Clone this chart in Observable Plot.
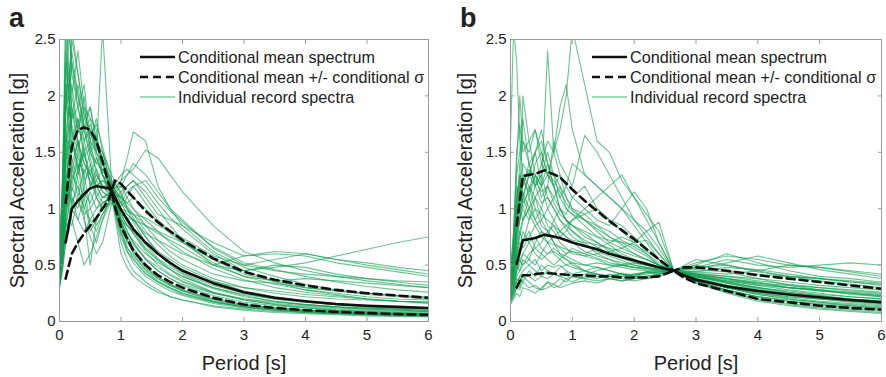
<!DOCTYPE html>
<html>
<head>
<meta charset="utf-8">
<script src="https://cdn.jsdelivr.net/npm/d3@7"></script>
<script src="https://cdn.jsdelivr.net/npm/@observablehq/plot@0.6"></script>
<style>
  html, body { margin: 0; padding: 0; background: #fff; }
  #wrap { position: relative; width: 886px; height: 377px; font-family: "Liberation Sans", Arial, sans-serif; color: #222; }
  .panel { position: absolute; top: 0; }
  .letter { position: absolute; font-weight: bold; font-size: 27px; line-height: 1; }
  .legend { position: absolute; font-size: 16.2px; color: #222; }
  .legend .row { display: flex; align-items: center; height: 20px; white-space: nowrap; }
  .legend svg { margin-right: 3px; }
</style>
</head>
<body>
<div id="wrap"></div>
<script>
// ---------------- Data ----------------
const xTicks = [0, 1, 2, 3, 4, 5, 6];
const yTicks = [0, 0.5, 1, 1.5, 2, 2.5];
const legendLabels = ["Conditional mean spectrum", "Conditional mean +/- conditional \u03c3", "Individual record spectra"];
const panelLetters = ["a", "b"];

// Panel a: conditional mean spectrum and +/- sigma
const cmsPeriodsA = [0.1, 0.2, 0.3, 0.4, 0.5, 0.6, 0.7, 0.8, 0.85, 0.9, 1.0, 1.2, 1.4, 1.6, 1.8, 2.0, 2.5, 3.0, 3.5, 4.0, 4.5, 5.0, 5.5, 6.0];
const cmsMeanA  = [0.70, 1.00, 1.07, 1.13, 1.18, 1.20, 1.19, 1.18, 1.16, 1.10, 0.99, 0.82, 0.70, 0.60, 0.52, 0.45, 0.34, 0.26, 0.21, 0.18, 0.155, 0.14, 0.13, 0.12];
const cmsUpperA = [1.05, 1.55, 1.70, 1.72, 1.70, 1.60, 1.42, 1.22, 1.16, 1.25, 1.22, 1.10, 0.98, 0.88, 0.80, 0.72, 0.56, 0.44, 0.37, 0.32, 0.28, 0.25, 0.23, 0.21];
const cmsLowerA = [0.38, 0.60, 0.70, 0.78, 0.85, 0.92, 1.00, 1.08, 1.16, 1.02, 0.84, 0.63, 0.50, 0.41, 0.35, 0.30, 0.21, 0.15, 0.12, 0.10, 0.085, 0.075, 0.065, 0.06];

// Panel a: individual record spectra
const recPeriodsA = [0, 0.05, 0.1, 0.15, 0.2, 0.3, 0.4, 0.5, 0.6, 0.7, 0.85, 1.0, 1.1, 1.2, 1.4, 1.6, 1.8, 2.0, 2.5, 3.0, 3.5, 4.0, 4.5, 5.0, 5.5, 6.0];
const recordsA = [
  [0.35,0.6,1.1,1.5,1.3,1.6,1.2,1.4,1.1,1.0,1.15,0.85,0.7,0.62,0.48,0.38,0.32,0.27,0.18,0.13,0.10,0.08,0.07,0.06,0.05,0.045],
  [0.45,0.9,1.8,2.6,2.2,1.9,2.1,1.6,1.5,1.3,1.2,1.05,0.95,0.9,0.75,0.62,0.55,0.48,0.36,0.27,0.22,0.18,0.15,0.13,0.12,0.11],
  [0.38,0.7,1.3,1.1,1.6,1.4,1.0,0.9,0.8,0.95,1.1,1.25,1.45,1.68,1.6,1.2,1.0,0.85,0.62,0.48,0.4,0.33,0.28,0.25,0.23,0.21],
  [0.5,1.0,2.0,1.7,2.5,2.2,1.8,1.9,1.6,1.4,1.15,0.9,0.75,0.65,0.5,0.4,0.33,0.28,0.2,0.15,0.12,0.1,0.09,0.08,0.07,0.065],
  [0.32,0.5,0.9,1.2,1.0,1.3,1.5,1.2,1.3,1.2,1.18,1.2,1.3,1.35,1.52,1.45,1.3,1.15,0.85,0.62,0.52,0.45,0.4,0.36,0.33,0.3],
  [0.4,0.8,1.5,1.9,1.7,1.3,1.6,1.4,1.2,1.1,1.1,0.7,0.55,0.45,0.35,0.28,0.22,0.19,0.13,0.1,0.08,0.07,0.06,0.05,0.045,0.04],
  [0.55,1.2,2.6,2.0,1.8,2.1,1.7,1.5,1.4,1.5,1.2,0.95,0.85,0.8,0.7,0.6,0.52,0.45,0.35,0.3,0.27,0.24,0.22,0.2,0.18,0.17],
  [0.3,0.45,0.7,0.9,0.85,1.1,0.9,0.75,0.6,0.7,1.05,1.15,1.2,1.25,1.1,0.95,0.9,0.85,0.7,0.58,0.6,0.58,0.52,0.48,0.44,0.4],
  [0.42,0.85,1.6,1.4,2.0,1.7,1.9,1.8,1.7,1.3,1.12,0.8,0.62,0.52,0.4,0.33,0.27,0.23,0.16,0.12,0.1,0.08,0.07,0.06,0.055,0.05],
  [0.36,0.6,1.0,1.3,1.1,0.9,1.1,0.8,0.9,1.0,1.18,1.3,1.35,1.3,1.2,1.05,0.92,0.82,0.6,0.45,0.35,0.28,0.24,0.2,0.18,0.16],
  [0.48,1.0,1.9,2.3,1.6,1.8,1.5,1.6,1.3,1.2,1.1,0.92,0.8,0.7,0.55,0.45,0.38,0.33,0.25,0.2,0.17,0.15,0.13,0.12,0.11,0.1],
  [0.33,0.55,0.8,1.0,0.9,0.7,0.5,0.6,0.75,0.9,1.15,1.25,1.3,1.4,1.3,1.15,1.0,0.9,0.65,0.5,0.45,0.42,0.4,0.38,0.36,0.35],
  [0.6,1.3,2.2,2.6,2.3,2.0,1.7,1.8,1.5,2.6,1.2,1.0,0.88,0.78,0.62,0.5,0.42,0.36,0.26,0.2,0.16,0.14,0.12,0.11,0.1,0.09],
  [0.34,0.6,0.95,1.1,1.3,1.2,0.95,0.5,0.9,1.05,1.1,0.6,0.48,0.4,0.32,0.26,0.22,0.19,0.14,0.11,0.09,0.08,0.07,0.06,0.055,0.05],
  [0.44,0.9,1.4,1.7,1.9,1.6,1.4,1.3,1.2,1.1,1.15,1.1,1.05,1.0,0.9,0.8,0.7,0.62,0.47,0.37,0.3,0.26,0.23,0.2,0.18,0.17],
  [0.37,0.7,1.2,1.0,1.4,1.6,1.3,1.0,1.1,1.2,1.2,1.05,1.0,0.95,0.85,0.8,0.75,0.7,0.55,0.45,0.48,0.52,0.58,0.64,0.7,0.75],
  [0.52,1.1,2.4,1.9,2.1,1.7,2.0,1.5,1.6,1.3,1.1,0.75,0.62,0.55,0.42,0.35,0.3,0.25,0.18,0.14,0.11,0.09,0.08,0.07,0.065,0.06],
  [0.35,0.55,0.85,1.15,1.05,1.2,1.0,1.15,1.0,1.1,1.15,1.1,1.2,1.25,1.15,1.0,0.85,0.72,0.5,0.58,0.62,0.6,0.55,0.52,0.48,0.45],
  [0.46,0.95,1.7,1.5,1.8,1.9,1.6,1.7,1.5,1.4,1.25,1.15,1.0,0.88,0.7,0.6,0.5,0.43,0.32,0.25,0.2,0.17,0.15,0.13,0.12,0.11],
  [0.31,0.48,0.7,0.8,1.0,0.9,0.8,0.9,1.0,1.05,1.1,1.2,1.1,1.0,0.85,0.72,0.62,0.55,0.42,0.36,0.34,0.3,0.27,0.25,0.23,0.22],
  [0.58,1.3,2.7,2.3,2.0,2.4,1.9,1.6,1.8,1.5,1.2,0.88,0.72,0.6,0.45,0.36,0.3,0.25,0.17,0.13,0.1,0.085,0.075,0.065,0.06,0.055],
  [0.4,0.75,1.25,1.45,1.2,1.5,1.25,1.35,1.2,1.25,1.15,0.98,0.9,0.82,0.68,0.56,0.48,0.42,0.3,0.23,0.18,0.15,0.13,0.11,0.1,0.09],
  [0.39,0.8,1.5,1.3,1.6,1.35,1.55,1.2,1.35,1.15,1.08,0.85,0.78,0.72,0.6,0.52,0.46,0.4,0.3,0.24,0.2,0.17,0.15,0.14,0.13,0.12],
  [0.5,1.0,1.9,2.0,1.7,1.5,1.8,1.7,1.45,1.3,1.12,1.0,0.95,0.9,0.78,0.72,0.66,0.6,0.5,0.45,0.5,0.48,0.42,0.38,0.35,0.32],
  [0.33,0.58,0.9,0.8,1.1,1.0,1.2,0.85,0.7,0.9,1.08,0.9,0.85,0.8,0.65,0.55,0.46,0.38,0.26,0.19,0.15,0.12,0.1,0.09,0.08,0.07],
  [0.47,1.0,2.1,1.8,2.3,1.9,1.7,1.9,1.6,1.5,1.3,1.12,1.02,0.95,0.8,0.68,0.58,0.5,0.38,0.3,0.25,0.22,0.2,0.19,0.18,0.17],
  [0.36,0.65,1.05,1.25,1.4,1.1,1.35,1.25,1.1,1.0,1.05,0.95,0.92,0.9,0.85,0.78,0.72,0.66,0.5,0.4,0.36,0.38,0.36,0.34,0.32,0.3],
  [0.43,0.85,1.55,1.75,1.5,1.8,1.45,1.55,1.4,1.35,1.22,1.08,1.0,0.92,0.75,0.6,0.52,0.46,0.34,0.26,0.21,0.18,0.16,0.14,0.13,0.12],
  [0.41,0.75,1.3,1.6,1.45,1.25,1.1,1.2,1.25,1.35,1.17,1.02,1.1,1.2,1.25,1.1,0.98,0.88,0.66,0.52,0.46,0.4,0.35,0.31,0.28,0.26],
  [0.54,1.15,2.3,2.0,2.6,2.2,1.85,1.65,1.75,1.55,1.25,0.82,0.66,0.56,0.43,0.35,0.29,0.24,0.17,0.13,0.11,0.09,0.08,0.07,0.065,0.06],
  [0.38,0.7,1.2,1.4,1.6,1.45,1.3,1.5,1.35,1.2,1.12,0.95,0.85,0.78,0.64,0.54,0.46,0.4,0.29,0.22,0.18,0.15,0.13,0.12,0.11,0.1],
  [0.45,0.9,1.65,1.9,1.75,1.55,1.7,1.45,1.25,1.15,1.1,0.78,0.65,0.58,0.46,0.38,0.32,0.27,0.19,0.14,0.12,0.1,0.085,0.075,0.07,0.065],
  [0.34,0.6,1.0,1.15,1.25,1.4,1.15,1.05,1.2,1.25,1.2,1.1,1.05,1.1,1.0,0.88,0.78,0.7,0.52,0.4,0.33,0.28,0.25,0.22,0.2,0.19],
  [0.5,1.1,2.0,2.2,1.9,1.7,1.6,1.75,1.55,1.45,1.18,0.92,0.8,0.7,0.55,0.45,0.38,0.32,0.23,0.17,0.14,0.12,0.1,0.09,0.08,0.075],
  [0.37,0.65,1.1,1.3,1.15,1.35,1.5,1.3,1.15,1.05,1.1,1.0,0.98,0.95,0.92,0.85,0.8,0.74,0.58,0.5,0.55,0.6,0.55,0.5,0.46,0.42],
  [0.42,0.8,1.45,1.6,1.85,1.6,1.4,1.3,1.45,1.3,1.15,0.88,0.76,0.68,0.56,0.48,0.41,0.35,0.25,0.19,0.15,0.13,0.11,0.1,0.09,0.085],
  [0.32,0.52,0.85,1.0,1.2,1.05,0.95,1.0,0.85,0.95,1.1,1.05,1.15,1.2,1.05,0.9,0.8,0.72,0.55,0.42,0.36,0.3,0.27,0.24,0.22,0.2],
  [0.48,1.0,1.85,2.1,2.4,2.0,1.75,1.55,1.65,1.4,1.2,0.86,0.72,0.62,0.48,0.39,0.33,0.28,0.2,0.15,0.12,0.1,0.09,0.08,0.07,0.065]
];

// Panel b: conditional mean spectrum and +/- sigma
const cmsPeriodsB = [0.1, 0.2, 0.3, 0.4, 0.55, 0.8, 1.0, 1.2, 1.4, 1.6, 1.8, 2.0, 2.2, 2.4, 2.64, 2.8, 3.0, 3.5, 4.0, 4.5, 5.0, 5.5, 6.0];
const cmsMeanB  = [0.51, 0.72, 0.73, 0.74, 0.77, 0.74, 0.70, 0.67, 0.64, 0.60, 0.57, 0.54, 0.51, 0.48, 0.45, 0.41, 0.37, 0.31, 0.27, 0.24, 0.215, 0.19, 0.17];
const cmsUpperB = [0.85, 1.29, 1.30, 1.31, 1.34, 1.28, 1.17, 1.07, 0.98, 0.89, 0.81, 0.73, 0.64, 0.55, 0.45, 0.48, 0.48, 0.45, 0.41, 0.38, 0.35, 0.32, 0.29];
const cmsLowerB = [0.30, 0.41, 0.41, 0.42, 0.43, 0.42, 0.41, 0.41, 0.40, 0.40, 0.39, 0.39, 0.39, 0.40, 0.45, 0.39, 0.34, 0.27, 0.20, 0.17, 0.14, 0.12, 0.105];

// Panel b: individual record spectra
const recPeriodsB = [0, 0.05, 0.1, 0.15, 0.2, 0.3, 0.4, 0.5, 0.6, 0.7, 0.8, 0.9, 1.0, 1.2, 1.4, 1.6, 1.8, 2.0, 2.2, 2.4, 2.64, 3.0, 3.5, 4.0, 4.5, 5.0, 5.5, 6.0];
const recordsB = [
  [0.3,0.5,0.9,1.2,1.4,1.3,1.5,1.2,2.4,1.5,1.3,1.1,1.0,0.95,0.85,0.75,0.68,0.6,0.55,0.5,0.45,0.4,0.35,0.3,0.26,0.23,0.2,0.18],
  [0.25,0.4,0.7,0.9,1.1,1.3,1.2,1.4,1.6,1.5,1.9,2.1,1.7,1.3,1.2,1.1,1.0,0.85,0.7,0.55,0.45,0.42,0.38,0.35,0.3,0.28,0.25,0.22],
  [0.3,0.45,0.6,0.8,0.9,1.0,1.1,1.2,1.3,1.5,1.7,2.0,2.6,2.1,1.6,1.5,1.25,1.1,0.9,0.7,0.45,0.38,0.3,0.25,0.22,0.2,0.18,0.16],
  [1.6,2.6,2.3,1.6,1.3,1.1,0.9,1.0,0.85,0.8,0.7,0.65,0.6,0.58,0.55,0.5,0.5,0.48,0.46,0.45,0.45,0.36,0.28,0.22,0.19,0.16,0.14,0.12],
  [0.2,0.25,0.35,0.3,0.4,0.35,0.3,0.28,0.35,0.3,0.32,0.38,0.35,0.4,0.38,0.42,0.4,0.42,0.44,0.46,0.45,0.48,0.55,0.5,0.48,0.5,0.52,0.5],
  [0.18,0.22,0.3,0.4,0.35,0.45,0.4,0.5,0.45,0.42,0.48,0.5,0.52,0.45,0.48,0.45,0.42,0.4,0.44,0.42,0.45,0.5,0.6,0.52,0.45,0.4,0.38,0.35],
  [0.35,0.6,1.0,1.4,1.6,1.5,1.7,1.4,1.3,1.2,1.1,1.0,0.95,0.85,0.75,0.68,0.6,0.55,0.52,0.48,0.45,0.38,0.3,0.24,0.2,0.17,0.15,0.13],
  [0.4,0.7,1.2,1.0,2.0,1.6,1.3,1.2,1.0,0.9,0.8,0.75,0.7,0.62,0.58,0.55,0.52,0.5,0.48,0.46,0.45,0.35,0.27,0.2,0.16,0.13,0.11,0.09],
  [0.22,0.3,0.45,0.5,0.6,0.55,0.7,0.8,0.75,0.9,1.0,0.95,1.1,1.2,1.0,0.9,0.8,0.7,0.6,0.5,0.45,0.42,0.38,0.33,0.3,0.28,0.26,0.24],
  [0.28,0.4,0.65,0.8,0.7,0.9,1.1,1.0,1.2,1.6,1.4,1.3,1.2,1.65,1.5,1.3,1.1,0.9,0.75,0.6,0.45,0.4,0.36,0.32,0.3,0.27,0.25,0.23],
  [0.15,0.2,0.25,0.22,0.3,0.28,0.25,0.3,0.35,0.33,0.38,0.35,0.4,0.38,0.42,0.4,0.43,0.41,0.44,0.43,0.45,0.5,0.45,0.42,0.4,0.38,0.36,0.34],
  [0.33,0.55,0.9,1.1,1.3,1.2,1.0,0.95,0.9,0.85,0.8,0.75,0.72,0.7,0.68,0.65,0.62,0.58,0.55,0.5,0.45,0.4,0.34,0.28,0.24,0.21,0.19,0.17],
  [0.25,0.35,0.5,0.6,0.7,0.8,0.65,0.6,0.7,0.75,0.8,0.85,0.9,1.0,1.1,1.2,1.3,1.1,0.95,0.8,0.45,0.55,0.5,0.45,0.4,0.36,0.33,0.3],
  [0.45,0.8,1.5,1.75,1.5,1.6,1.7,1.5,1.3,1.2,1.0,0.9,0.85,0.75,0.7,0.62,0.58,0.55,0.5,0.48,0.45,0.35,0.26,0.19,0.15,0.12,0.1,0.08],
  [0.2,0.28,0.4,0.45,0.5,0.55,0.5,0.6,0.55,0.5,0.55,0.6,0.65,0.6,0.65,0.7,0.75,0.7,0.8,0.88,0.45,0.4,0.35,0.3,0.26,0.23,0.2,0.18],
  [0.38,0.65,1.1,1.3,1.2,1.4,1.2,1.3,1.5,1.3,1.2,1.1,1.0,0.9,0.8,0.7,0.65,0.6,0.55,0.5,0.45,0.42,0.4,0.38,0.35,0.32,0.3,0.28],
  [0.26,0.4,0.6,0.75,0.9,1.0,0.9,0.8,0.7,0.6,0.55,0.5,0.48,0.45,0.42,0.4,0.42,0.4,0.42,0.44,0.45,0.38,0.3,0.26,0.22,0.2,0.18,0.16],
  [0.3,0.5,0.8,1.0,0.9,1.1,1.3,1.2,1.4,1.3,1.1,1.2,1.1,1.0,0.9,0.85,1.0,1.15,1.0,0.7,0.45,0.44,0.48,0.46,0.42,0.38,0.35,0.33],
  [0.42,0.8,1.4,2.0,1.6,1.4,1.5,1.7,1.4,1.2,1.0,0.9,0.8,0.7,0.6,0.55,0.5,0.48,0.47,0.46,0.45,0.34,0.25,0.18,0.14,0.11,0.09,0.07],
  [0.18,0.25,0.35,0.4,0.45,0.5,0.55,0.45,0.5,0.48,0.5,0.45,0.42,0.45,0.4,0.38,0.36,0.38,0.4,0.42,0.45,0.52,0.58,0.55,0.5,0.48,0.45,0.42],
  [0.32,0.5,0.8,0.9,1.0,0.9,1.0,0.85,0.8,0.7,0.65,0.6,0.62,0.58,0.6,0.62,0.65,0.7,0.72,0.6,0.45,0.36,0.28,0.22,0.18,0.15,0.13,0.11],
  [0.24,0.35,0.55,0.7,0.65,0.75,0.85,0.9,1.0,1.1,1.0,0.9,0.85,0.8,0.75,0.72,0.7,0.68,0.62,0.55,0.45,0.4,0.36,0.34,0.32,0.3,0.28,0.26],
  [0.36,0.6,1.0,1.2,1.0,1.2,1.1,0.9,0.8,0.7,0.6,0.55,0.5,0.45,0.42,0.4,0.38,0.36,0.38,0.42,0.45,0.42,0.35,0.3,0.27,0.24,0.22,0.2],
  [0.27,0.42,0.7,0.9,1.1,1.3,1.5,1.6,1.4,1.2,1.3,1.2,1.4,1.3,1.2,1.1,1.0,0.9,0.8,0.65,0.45,0.37,0.3,0.25,0.21,0.18,0.16,0.14],
  [0.2,0.3,0.45,0.55,0.6,0.7,0.6,0.55,0.6,0.65,0.6,0.58,0.55,0.5,0.48,0.45,0.42,0.4,0.38,0.4,0.45,0.46,0.44,0.38,0.32,0.28,0.24,0.22],
  [0.34,0.55,0.95,1.3,1.1,0.95,0.85,0.75,0.7,0.68,0.66,0.64,0.62,0.6,0.56,0.52,0.5,0.48,0.47,0.46,0.45,0.41,0.37,0.32,0.28,0.25,0.22,0.2],
  [0.23,0.32,0.5,0.45,0.55,0.5,0.45,0.4,0.45,0.42,0.4,0.38,0.4,0.42,0.45,0.48,0.5,0.52,0.5,0.48,0.45,0.44,0.42,0.45,0.5,0.48,0.44,0.4],
  [0.29,0.45,0.75,0.95,1.15,1.0,1.2,1.05,1.1,1.0,0.9,0.85,0.8,0.72,0.66,0.6,0.56,0.52,0.5,0.48,0.45,0.39,0.32,0.27,0.23,0.2,0.17,0.15],
  [0.3,0.5,0.85,1.1,1.25,1.15,1.3,1.1,1.2,1.05,0.95,0.9,0.85,0.78,0.7,0.64,0.58,0.54,0.5,0.47,0.45,0.41,0.38,0.34,0.3,0.27,0.25,0.23],
  [0.21,0.3,0.45,0.55,0.5,0.6,0.65,0.7,0.8,0.85,0.75,0.8,0.9,0.95,1.0,0.9,0.85,0.75,0.65,0.55,0.45,0.38,0.32,0.28,0.24,0.21,0.19,0.17],
  [0.4,0.75,1.3,1.5,1.8,1.4,1.2,1.3,1.1,1.0,0.9,0.82,0.75,0.68,0.62,0.58,0.54,0.5,0.48,0.46,0.45,0.37,0.3,0.24,0.2,0.17,0.14,0.12],
  [0.19,0.26,0.38,0.35,0.42,0.4,0.36,0.4,0.38,0.42,0.4,0.44,0.4,0.38,0.36,0.38,0.4,0.42,0.43,0.44,0.45,0.47,0.52,0.58,0.52,0.46,0.42,0.38],
  [0.33,0.55,0.9,1.0,1.2,1.35,1.25,1.15,1.2,1.1,1.2,1.0,0.95,0.9,0.85,0.8,0.72,0.66,0.6,0.52,0.45,0.4,0.34,0.29,0.25,0.22,0.2,0.18],
  [0.26,0.38,0.6,0.65,0.8,0.7,0.75,0.65,0.6,0.62,0.58,0.55,0.52,0.5,0.52,0.5,0.48,0.46,0.45,0.44,0.45,0.43,0.4,0.36,0.33,0.3,0.27,0.25],
  [0.37,0.65,1.1,1.25,1.05,1.15,1.4,1.5,1.3,1.25,1.15,1.05,0.98,0.9,0.82,0.75,0.7,0.64,0.58,0.5,0.45,0.36,0.28,0.22,0.18,0.15,0.12,0.1],
  [0.17,0.22,0.3,0.28,0.35,0.3,0.32,0.28,0.3,0.33,0.3,0.32,0.34,0.36,0.34,0.38,0.36,0.38,0.4,0.42,0.45,0.48,0.5,0.44,0.4,0.38,0.35,0.32]
];

// ---------------- Build ----------------
const GREEN = "#12a050";
const FONT = "'Liberation Sans', Arial, Helvetica, sans-serif";

function recTable(periods, records) {
  return records.flatMap((r, i) => r.map((v, j) => ({id: i, T: periods[j], Sa: v})));
}
function cmsTable(periods, mean, upper, lower) {
  return periods.map((T, j) => ({T, mean: mean[j], upper: upper[j], lower: lower[j]}));
}

function panel(recs, cms, margins) {
  return Plot.plot({
    width: 443, height: 377,
    marginLeft: margins.left, marginRight: margins.right, marginTop: 39, marginBottom: 56,
    style: {fontFamily: FONT, fontSize: "15px", color: "#222", background: "white"},
    x: {domain: [0, 6]},
    y: {domain: [0, 2.5]},
    marks: [
      Plot.line(recs, {x: "T", y: "Sa", z: "id", stroke: GREEN, strokeOpacity: 0.62, strokeWidth: 1.1, clip: true}),
      Plot.line(cms, {x: "T", y: "upper", stroke: "#111", strokeWidth: 2.6, strokeDasharray: "8,5", clip: true}),
      Plot.line(cms, {x: "T", y: "lower", stroke: "#111", strokeWidth: 2.6, strokeDasharray: "8,5", clip: true}),
      Plot.line(cms, {x: "T", y: "mean", stroke: "#111", strokeWidth: 2.6, clip: true}),
      Plot.frame({stroke: "#9a9a9a", strokeWidth: 1}),
      // inward tick marks on all four sides
      Plot.axisX({ticks: xTicks, anchor: "bottom", tickSize: 4, dy: -4, text: null, stroke: "#9a9a9a", label: null}),
      Plot.axisX({ticks: xTicks, anchor: "top", tickSize: 4, dy: 4, text: null, stroke: "#9a9a9a", label: null}),
      Plot.axisY({ticks: yTicks, anchor: "left", tickSize: 4, dx: 4, text: null, stroke: "#9a9a9a", label: null}),
      Plot.axisY({ticks: yTicks, anchor: "right", tickSize: 4, dx: -4, text: null, stroke: "#9a9a9a", label: null}),
      // tick labels
      Plot.axisX({ticks: xTicks, anchor: "bottom", tickSize: 0, tickPadding: 8, label: null, fontSize: 15, fill: "#222", tickFormat: d => String(d)}),
      Plot.axisY({ticks: yTicks, anchor: "left", tickSize: 0, tickPadding: 4, label: null, fontSize: 15, fill: "#222", tickFormat: d => String(d)}),
      // axis titles
      Plot.text(["Period [s]"], {frameAnchor: "bottom", dy: 42, text: d => d, fontSize: 20, fill: "#222", lineAnchor: "middle"}),
      Plot.text(["Spectral Acceleration [g]"], {frameAnchor: "left", dx: -(margins.left - margins.ytitle), rotate: -90, text: d => d, fontSize: 20, fill: "#222", lineAnchor: "middle", textAnchor: "middle"})
    ]
  });
}

const wrap = document.getElementById("wrap");
const panels = [
  {recs: recTable(recPeriodsA, recordsA), cms: cmsTable(cmsPeriodsA, cmsMeanA, cmsUpperA, cmsLowerA), left: 0, margins: {left: 59, right: 15, ytitle: 17}, legendX: 140, letterX: 9},
  {recs: recTable(recPeriodsB, recordsB), cms: cmsTable(cmsPeriodsB, cmsMeanB, cmsUpperB, cmsLowerB), left: 443, margins: {left: 67, right: 5, ytitle: 22}, legendX: 592, letterX: 460}
];

panels.forEach((p, i) => {
  const div = document.createElement("div");
  div.className = "panel";
  div.style.left = p.left + "px";
  div.appendChild(panel(p.recs, p.cms, p.margins));
  wrap.appendChild(div);

  const letter = document.createElement("div");
  letter.className = "letter";
  letter.style.left = p.letterX + "px";
  letter.style.top = "5px";
  letter.textContent = panelLetters[i];
  wrap.appendChild(letter);

  const leg = document.createElement("div");
  leg.className = "legend";
  leg.style.left = p.legendX + "px";
  leg.style.top = "47px";
  const styles = [
    {stroke: "#111", w: 2.6, dash: ""},
    {stroke: "#111", w: 2.6, dash: "8,5"},
    {stroke: "#7ccf9c", w: 1.5, dash: ""}
  ];
  legendLabels.forEach((lab, k) => {
    const row = document.createElement("div");
    row.className = "row";
    const s = styles[k];
    row.innerHTML = `<svg width="35" height="6"><line x1="0" y1="3" x2="35" y2="3" stroke="${s.stroke}" stroke-width="${s.w}" ${s.dash ? `stroke-dasharray="${s.dash}"` : ""}/></svg><span>${lab}</span>`;
    leg.appendChild(row);
  });
  wrap.appendChild(leg);
});
</script>
</body>
</html>
